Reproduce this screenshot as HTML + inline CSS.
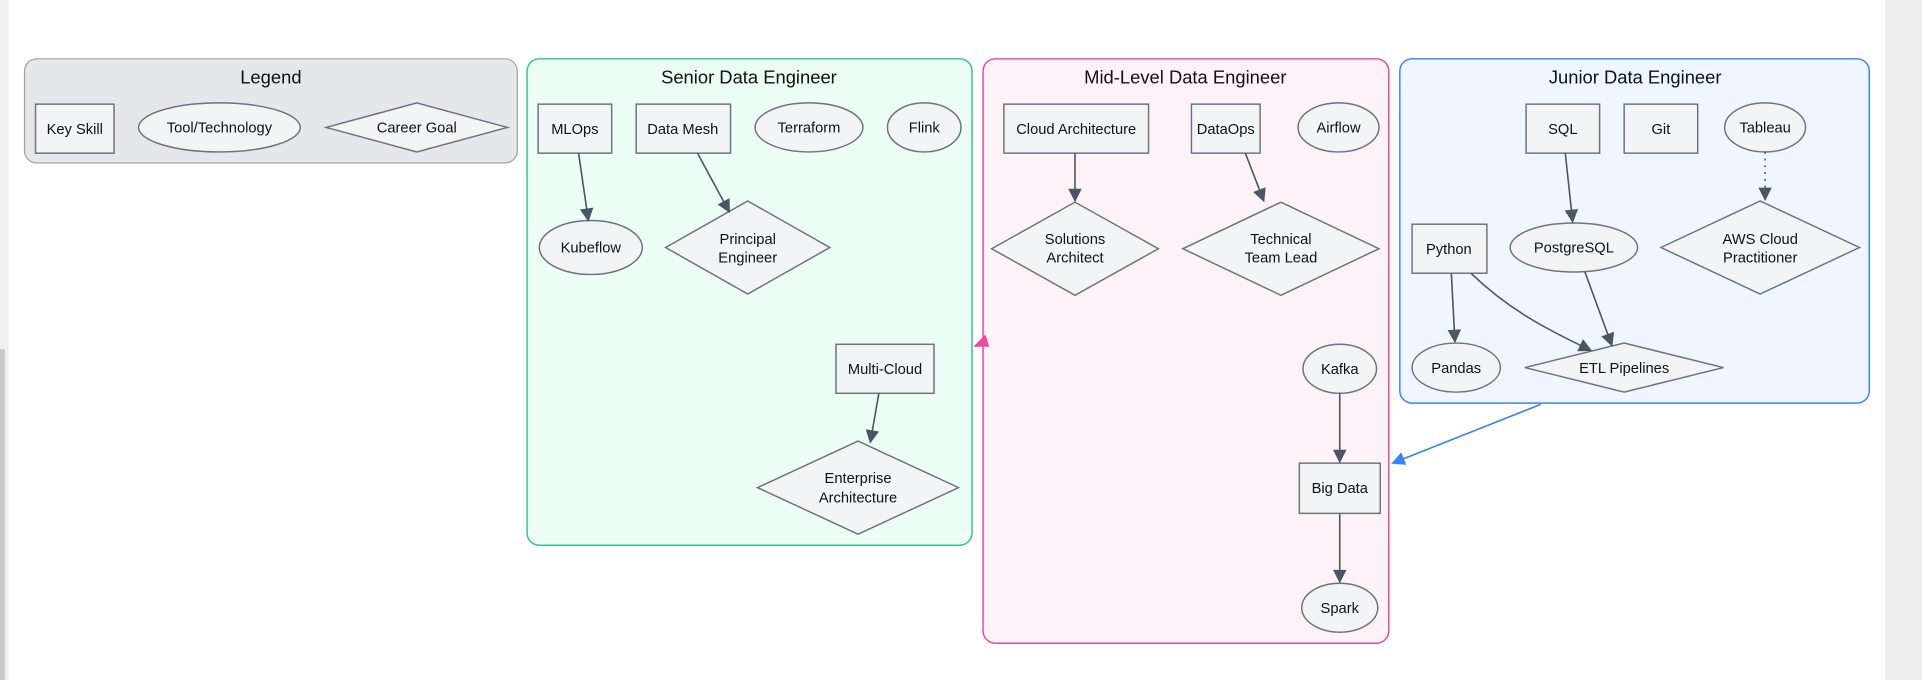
<!DOCTYPE html>
<html><head><meta charset="utf-8"><style>
html,body{margin:0;padding:0;background:#fff;width:1922px;height:680px;overflow:hidden}
svg{display:block}
text{font-family:"Liberation Sans",Arial,sans-serif;fill:#111;text-anchor:middle;dominant-baseline:central}
.n{font-size:12px}
.t{font-size:15px}
.nd{fill:#f3f4f6;stroke:#6b7280;stroke-width:1.2}
.e{stroke:#4b5563;stroke-width:1.3;fill:none}
</style></head><body>
<svg width="1922" height="680" viewBox="0 0 1568 555" preserveAspectRatio="none">
<defs>
<marker id="a" viewBox="0 0 10 10" refX="9" refY="5" markerWidth="12" markerHeight="11" markerUnits="userSpaceOnUse" orient="auto"><path d="M0,0L10,5L0,10z" fill="#4b5563"/></marker>
<marker id="b" viewBox="0 0 10 10" refX="9" refY="5" markerWidth="12" markerHeight="11" markerUnits="userSpaceOnUse" orient="auto"><path d="M0,0L10,5L0,10z" fill="#3b82f6"/></marker>
</defs>
<rect x="0" y="0" width="7" height="555" fill="#f0f0f0"/>
<rect x="0" y="285" width="4" height="270" fill="#c8c8c8"/>
<rect x="1538" y="0" width="30" height="555" fill="#ededed"/>

<rect x="20" y="48" width="402" height="85" rx="10" fill="#e5e7eb" stroke="#9ca3af" stroke-width="1"/>
<text x="221" y="63" class="t">Legend</text>
<rect x="29" y="85" width="64" height="40" class="nd"/><text x="61" y="106" class="n">Key Skill</text>
<ellipse cx="179" cy="104" rx="66" ry="20" class="nd"/><text x="179" y="105" class="n">Tool/Technology</text>
<polygon points="266,104 340,84 414,104 340,124" class="nd"/><text x="340" y="105" class="n">Career Goal</text>

<rect x="430" y="48" width="363" height="397" rx="10" fill="#ecfdf5" stroke="#34c38f" stroke-width="1.2"/>
<text x="611" y="63" class="t">Senior Data Engineer</text>
<rect x="439" y="85" width="60" height="40" class="nd"/><text x="469" y="106" class="n">MLOps</text>
<rect x="519" y="85" width="77" height="40" class="nd"/><text x="557" y="106" class="n">Data Mesh</text>
<ellipse cx="660" cy="104" rx="44" ry="20" class="nd"/><text x="660" y="105" class="n">Terraform</text>
<ellipse cx="754" cy="104" rx="30" ry="20" class="nd"/><text x="754" y="105" class="n">Flink</text>
<ellipse cx="482" cy="202" rx="42" ry="22" class="nd"/><text x="482" y="203" class="n">Kubeflow</text>
<polygon points="543,202 610,164 677,202 610,240" class="nd"/><text x="610" y="196" class="n">Principal</text><text x="610" y="211" class="n">Engineer</text>
<rect x="682" y="281" width="80" height="40" class="nd"/><text x="722" y="302" class="n">Multi-Cloud</text>
<polygon points="618,398 700,360 782,398 700,436" class="nd"/><text x="700" y="391" class="n">Enterprise</text><text x="700" y="407" class="n">Architecture</text>
<line x1="472" y1="125" x2="480" y2="180" class="e" marker-end="url(#a)"/>
<line x1="569" y1="125" x2="595" y2="173" class="e" marker-end="url(#a)"/>
<line x1="717" y1="321" x2="710" y2="361" class="e" marker-end="url(#a)"/>

<rect x="802" y="48" width="331" height="477" rx="10" fill="#fdf2f8" stroke="#ec4899" stroke-width="1.2"/>
<text x="967" y="63" class="t">Mid-Level Data Engineer</text>
<rect x="819" y="85" width="118" height="40" class="nd"/><text x="878" y="106" class="n">Cloud Architecture</text>
<rect x="972" y="85" width="56" height="40" class="nd"/><text x="1000" y="106" class="n">DataOps</text>
<ellipse cx="1092" cy="104" rx="33" ry="20" class="nd"/><text x="1092" y="105" class="n">Airflow</text>
<polygon points="809,203 877,165 945,203 877,241" class="nd"/><text x="877" y="196" class="n">Solutions</text><text x="877" y="211" class="n">Architect</text>
<polygon points="965,203 1045,165 1125,203 1045,241" class="nd"/><text x="1045" y="196" class="n">Technical</text><text x="1045" y="211" class="n">Team Lead</text>
<ellipse cx="1093" cy="301" rx="30" ry="20" class="nd"/><text x="1093" y="302" class="n">Kafka</text>
<rect x="1060" y="378" width="66" height="41" class="nd"/><text x="1093" y="399" class="n">Big Data</text>
<ellipse cx="1093" cy="496" rx="31" ry="20" class="nd"/><text x="1093" y="497" class="n">Spark</text>
<line x1="877" y1="125" x2="877" y2="164" class="e" marker-end="url(#a)"/>
<line x1="1016" y1="125" x2="1031" y2="164" class="e" marker-end="url(#a)"/>
<line x1="1093" y1="321" x2="1093" y2="377" class="e" marker-end="url(#a)"/>
<line x1="1093" y1="419" x2="1093" y2="475" class="e" marker-end="url(#a)"/>
<polygon points="794,283 807,283 804,273" fill="#ec4899"/>

<rect x="1142" y="48" width="383" height="281" rx="10" fill="#eff6ff" stroke="#3b82f6" stroke-width="1.2"/>
<text x="1334" y="63" class="t">Junior Data Engineer</text>
<rect x="1245" y="85" width="60" height="40" class="nd"/><text x="1275" y="106" class="n">SQL</text>
<rect x="1325" y="85" width="60" height="40" class="nd"/><text x="1355" y="106" class="n">Git</text>
<ellipse cx="1440" cy="104" rx="33" ry="20" class="nd"/><text x="1440" y="105" class="n">Tableau</text>
<rect x="1152" y="183" width="61" height="40" class="nd"/><text x="1182" y="204" class="n">Python</text>
<ellipse cx="1284" cy="202" rx="52" ry="20" class="nd"/><text x="1284" y="203" class="n">PostgreSQL</text>
<polygon points="1355,202 1436,164 1517,202 1436,240" class="nd"/><text x="1436" y="196" class="n">AWS Cloud</text><text x="1436" y="211" class="n">Practitioner</text>
<ellipse cx="1188" cy="300" rx="36" ry="20" class="nd"/><text x="1188" y="301" class="n">Pandas</text>
<polygon points="1244,300 1325,280 1406,300 1325,320" class="nd"/><text x="1325" y="301" class="n">ETL Pipelines</text>
<line x1="1277" y1="125" x2="1283" y2="181" class="e" marker-end="url(#a)"/>
<line x1="1440" y1="124" x2="1440" y2="163" class="e" stroke-dasharray="1.5,4" marker-end="url(#a)"/>
<line x1="1184" y1="223" x2="1187" y2="279" class="e" marker-end="url(#a)"/>
<path d="M1200,223 C1230,252 1260,268 1298,286" class="e" marker-end="url(#a)"/>
<line x1="1293" y1="222" x2="1315" y2="282" class="e" marker-end="url(#a)"/>

<line x1="1257" y1="330" x2="1136" y2="378" stroke="#3b82f6" stroke-width="1.3" marker-end="url(#b)"/>
</svg>
</body></html>
